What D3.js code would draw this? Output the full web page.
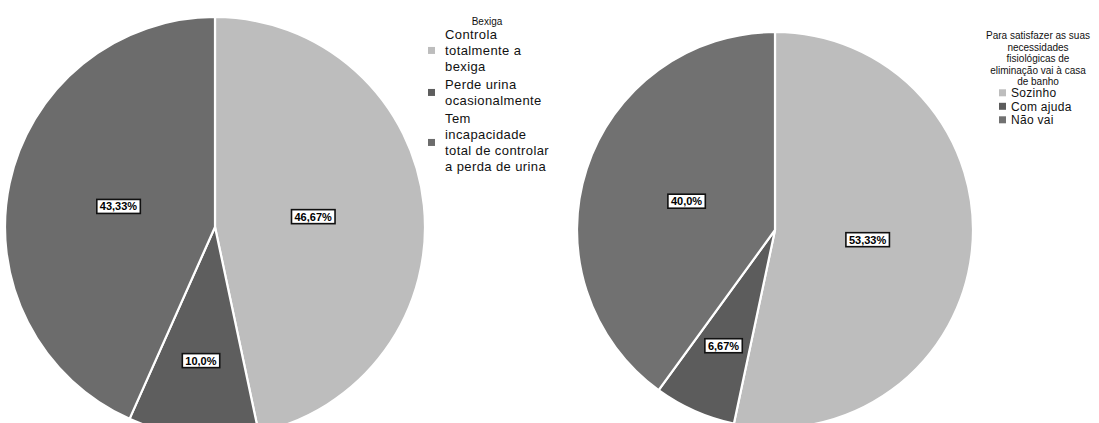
<!DOCTYPE html>
<html>
<head>
<meta charset="utf-8">
<script src="https://cdn.jsdelivr.net/npm/d3@7"></script>
<style>
  body { margin: 0; background: #fff; }
  svg { display: block; font-family: "Liberation Sans", Arial, sans-serif; }
</style>
</head>
<body>
<div id="chart"><svg></svg></div>
<script>
// left chart: bexiga
var bexigaItems = [["Controla", "totalmente a", "bexiga"], ["Perde urina", "ocasionalmente"], ["Tem", "incapacidade", "total de controlar", "a perda de urina"]];
var bexigaValues = [46.67, 10.0, 43.33];
var bexigaText = ["46,67%", "10,0%", "43,33%"];
var bexigaTitle = ["Bexiga"];

// right chart: casa de banho
var banhoItems = [["Sozinho"], ["Com ajuda"], ["Não vai"]];
var banhoValues = [53.33, 6.67, 40.0];
var banhoText = ["53,33%", "6,67%", "40,0%"];
var banhoTitle = ["Para satisfazer as suas", "necessidades", "fisiológicas de", "eliminação vai à casa", "de banho"];

var width = 1099;
var height = 423;
var svg = d3.select("#chart svg").attr("width", width).attr("height", height);

function drawPie(cfg)
{
    var g = svg.append("g").attr("transform", "translate(" + cfg.cx + "," + cfg.cy + ")");
    var pie = d3.pie().sort(null).value(function(d) { return d; });
    var arcs = pie(cfg.values);
    var arc = d3.arc().innerRadius(0).outerRadius(cfg.r);

    g.selectAll("path")
        .data(arcs)
        .enter().append("path")
        .attr("d", arc)
        .attr("fill", function(d, i) { return cfg.colors[i]; })
        .attr("stroke", "#fff")
        .attr("stroke-width", 2.2);

    var lbl = g.selectAll("g.lbl")
        .data(arcs)
        .enter().append("g")
        .attr("class", "lbl")
        .attr("transform", function(d) {
            var frac = (d.endAngle - d.startAngle) < 1 ? 0.64 : 0.47;
            var la = d3.arc().innerRadius(cfg.r * frac).outerRadius(cfg.r * frac);
            var p = la.centroid(d);
            return "translate(" + p[0] + "," + p[1] + ")";
        });

    lbl.append("text")
        .attr("text-anchor", "middle")
        .attr("dy", "0.36em")
        .attr("font-size", 11)
        .attr("font-weight", "bold")
        .text(function(d, i) { return cfg.texts[i]; });

    lbl.each(function() {
        var t = d3.select(this).select("text");
        var b = t.node().getBBox();
        d3.select(this).insert("rect", "text")
            .attr("x", b.x - 3).attr("y", b.y - 1)
            .attr("width", b.width + 6).attr("height", b.height + 2)
            .attr("fill", "#fff").attr("stroke", "#111").attr("stroke-width", 1.6);
    });
}

function drawLegend(cfg)
{
    var g = svg.append("g");
    g.selectAll("text.title")
        .data(cfg.title)
        .enter().append("text")
        .attr("class", "title")
        .attr("x", cfg.titleX)
        .attr("y", function(d, i) { return cfg.titleY + i * cfg.titleStep; })
        .attr("text-anchor", "middle")
        .attr("font-size", 10)
        .attr("fill", "#111")
        .text(function(d) { return d; });

    var y = cfg.itemY;
    cfg.items.forEach(function(lines, i) {
        var top = y;
        lines.forEach(function(line, j) {
            g.append("text")
                .attr("x", cfg.textX)
                .attr("y", y + j * cfg.lineStep)
                .attr("font-size", cfg.fontSize)
                .attr("letter-spacing", cfg.spacing)
                .attr("fill", "#111")
                .text(line);
        });
        var mid = top + (lines.length - 1) * cfg.lineStep / 2 - cfg.fontSize * 0.35;
        g.append("rect")
            .attr("x", cfg.markX).attr("y", mid - 3.5)
            .attr("width", 7).attr("height", 7)
            .attr("fill", cfg.colors[i]);
        y += (lines.length - 1) * cfg.lineStep + cfg.itemStep;
    });
}

drawPie({cx: 215, cy: 227, r: 210, values: bexigaValues, texts: bexigaText,
    colors: ["#bdbdbd", "#5e5e5e", "#6c6c6c"]});
drawPie({cx: 775, cy: 230, r: 198, values: banhoValues, texts: banhoText,
    colors: ["#bdbdbd", "#5c5c5c", "#717171"]});

drawLegend({title: bexigaTitle, titleX: 487, titleY: 25, titleStep: 12,
    items: bexigaItems, itemY: 39, lineStep: 16, itemStep: 18, fontSize: 13, spacing: 0.4,
    textX: 445, markX: 428, colors: ["#bdbdbd", "#5e5e5e", "#6c6c6c"]});
drawLegend({title: banhoTitle, titleX: 1038, titleY: 39, titleStep: 11.5,
    items: banhoItems, itemY: 97, lineStep: 13, itemStep: 13.5, fontSize: 12, spacing: 0.3,
    textX: 1011, markX: 999, colors: ["#bdbdbd", "#5c5c5c", "#717171"]});
</script>
</body>
</html>
